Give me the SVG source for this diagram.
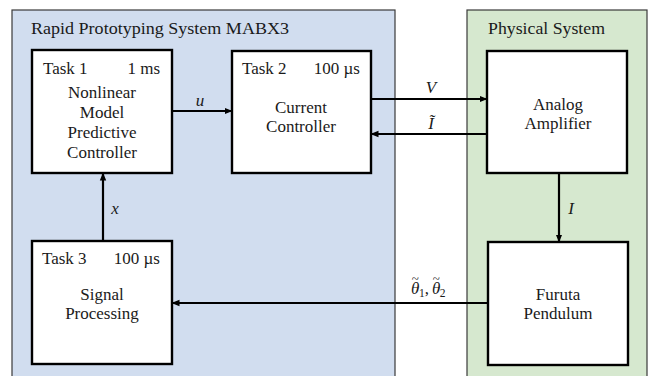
<svg xmlns="http://www.w3.org/2000/svg" width="649" height="376" viewBox="0 0 649 376" font-family="'Liberation Serif', serif" font-size="17">
<style>
text{font-family:'Liberation Serif',serif;font-size:17px;fill:#1a1a1a}
.c{text-anchor:middle}
.r{text-anchor:end}
.m{font-style:italic}
.s{font-size:11.5px;font-style:normal}
.t{font-size:13px;font-style:normal}
.panel{stroke:#3a3a3a;stroke-width:1.2}
.box{fill:#fff;stroke:#000;stroke-width:2.4}
.conn line{stroke:#000;stroke-width:2.2;fill:none}
</style>
<defs>
<marker id="ah" viewBox="0 0 8 8" refX="7.5" refY="4" markerWidth="8" markerHeight="8" markerUnits="userSpaceOnUse" orient="auto">
<path d="M0,0.8 L8,4 L0,7.2 Z" fill="#000"/>
</marker>
</defs>
<rect width="649" height="376" fill="#fff"/>
<g id="panel-rps">
<rect class="panel" x="12" y="10" width="383" height="380" fill="#d1ddef"/>
<text x="31" y="34" textLength="258" lengthAdjust="spacingAndGlyphs">Rapid Prototyping System MABX3</text>
</g>
<g id="panel-phys">
<rect class="panel" x="467" y="10" width="180" height="380" fill="#d6e8cf"/>
<text x="488" y="34" textLength="117" lengthAdjust="spacingAndGlyphs">Physical System</text>
</g>
<g id="task1">
<rect class="box" x="32" y="50" width="140" height="123"/>
<text x="43" y="74">Task 1</text>
<text x="160" y="74" class="r">1 ms</text>
<text x="102" y="98" class="c">Nonlinear</text>
<text x="102" y="118" class="c">Model</text>
<text x="102" y="138" class="c">Predictive</text>
<text x="102" y="158" class="c">Controller</text>
</g>
<g id="task2">
<rect class="box" x="232" y="51" width="139" height="122"/>
<text x="242" y="74">Task 2</text>
<text x="360" y="74" class="r">100 µs</text>
<text x="301" y="113" class="c">Current</text>
<text x="301" y="132" class="c">Controller</text>
</g>
<g id="task3">
<rect class="box" x="32" y="241" width="140" height="123"/>
<text x="42" y="264">Task 3</text>
<text x="160" y="264" class="r">100 µs</text>
<text x="102" y="299.5" class="c">Signal</text>
<text x="102" y="318.5" class="c">Processing</text>
</g>
<g id="amplifier">
<rect class="box" x="487" y="51" width="140" height="122"/>
<text x="558" y="110" class="c">Analog</text>
<text x="558" y="129" class="c">Amplifier</text>
</g>
<g id="pendulum">
<rect class="box" x="488" y="242" width="140" height="123"/>
<text x="558" y="299.5" class="c">Furuta</text>
<text x="558" y="318.5" class="c">Pendulum</text>
</g>
<g id="connectors" class="conn">
<line x1="172" y1="111" x2="232" y2="111" marker-end="url(#ah)"/>
<line x1="371" y1="99" x2="487" y2="99" marker-end="url(#ah)"/>
<line x1="487" y1="134" x2="371" y2="134" marker-end="url(#ah)"/>
<line x1="103" y1="241" x2="103" y2="173" marker-end="url(#ah)"/>
<line x1="559" y1="173" x2="559" y2="242" marker-end="url(#ah)"/>
<line x1="488" y1="303" x2="172" y2="303" marker-end="url(#ah)"/>
<text x="200" y="106" class="c m">u</text>
<text x="431" y="93" class="c m">V</text>
<text x="431" y="129" class="c m">Ĩ</text>
<text x="115" y="214" class="c m">x</text>
<text x="571" y="214" class="c m">I</text>
<text x="411" y="294"><tspan class="m">θ</tspan><tspan class="t" dx="-7.5" dy="-11">~</tspan><tspan class="s" dy="14">1</tspan><tspan dy="-3">,</tspan><tspan class="m" dx="3">θ</tspan><tspan class="t" dx="-7.5" dy="-11">~</tspan><tspan class="s" dy="14">2</tspan></text>
</g>
</svg>
